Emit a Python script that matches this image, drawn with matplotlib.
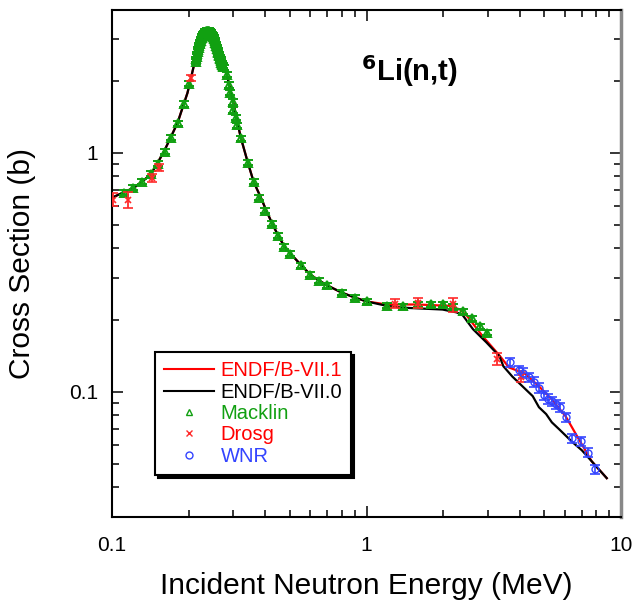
import matplotlib
matplotlib.use("Agg")
import matplotlib.pyplot as plt
from matplotlib.lines import Line2D
from matplotlib.ticker import LogLocator, NullFormatter, FixedLocator, FixedFormatter
import numpy as np

plt.rcParams['font.family'] = ['Liberation Sans', 'DejaVu Sans']

# ENDF/B-VII.1 (red) evaluation
e71 = [0.100, 0.102, 0.122, 0.142, 0.160, 0.181, 0.198, 0.213, 0.224, 0.232, 0.238, 0.242,
       0.248, 0.256, 0.266, 0.275, 0.298, 0.320, 0.341, 0.360, 0.383, 0.404, 0.426, 0.450,
       0.476, 0.502, 0.555, 0.602, 0.652, 0.700, 0.800, 0.900, 1.00, 1.20, 1.58, 2.12,
       2.33, 2.49, 2.86, 3.33, 3.63, 3.98, 4.22, 4.76, 5.35, 6.06, 6.66, 7.67, 8.79]
s71 = [0.650, 0.655, 0.714, 0.809, 1.01, 1.334, 1.78, 2.48, 2.92, 3.12, 3.20, 3.21,
       3.15, 2.95, 2.62, 2.40, 1.66, 1.166, 0.917, 0.757, 0.655, 0.573, 0.505, 0.450,
       0.405, 0.379, 0.338, 0.309, 0.292, 0.279, 0.260, 0.248, 0.239, 0.232, 0.232, 0.229,
       0.221, 0.207, 0.171, 0.142, 0.1265, 0.122, 0.1187, 0.1055, 0.093, 0.0791, 0.0664, 0.0513, 0.0436]

# ENDF/B-VII.0 (black) evaluation
e70 = [0.100, 0.102, 0.122, 0.142, 0.160, 0.181, 0.198, 0.213, 0.224, 0.232, 0.238, 0.242,
       0.248, 0.256, 0.266, 0.275, 0.298, 0.320, 0.341, 0.360, 0.383, 0.404, 0.426, 0.450,
       0.476, 0.502, 0.555, 0.602, 0.652, 0.700, 0.800, 0.900, 1.00, 1.20, 1.39, 1.66, 1.99,
       2.26, 2.39, 2.62, 2.96, 3.33, 3.45, 3.74, 4.22, 4.50, 4.76, 5.08, 5.35, 5.70,
       6.43, 7.02, 7.67, 8.79]
s70 = [0.650, 0.655, 0.714, 0.809, 1.01, 1.334, 1.78, 2.48, 2.92, 3.12, 3.20, 3.21,
       3.15, 2.95, 2.62, 2.40, 1.66, 1.166, 0.917, 0.757, 0.655, 0.573, 0.505, 0.450,
       0.405, 0.379, 0.338, 0.309, 0.292, 0.279, 0.260, 0.248, 0.239, 0.229, 0.225, 0.223, 0.221,
       0.215, 0.209, 0.183, 0.161, 0.141, 0.128, 0.116, 0.1025, 0.096, 0.0863, 0.0808, 0.0746, 0.0700,
       0.0618, 0.0570, 0.0513, 0.0436]

# Macklin data (green)
mack_e = [0.111, 0.121, 0.131, 0.142, 0.151, 0.161, 0.171, 0.181, 0.191, 0.200, 0.213,
          0.214, 0.215, 0.216, 0.217, 0.218, 0.219, 0.220, 0.221, 0.222, 0.223, 0.224, 0.225,
          0.226, 0.227, 0.228, 0.229, 0.230, 0.231, 0.232, 0.233, 0.234, 0.235, 0.236, 0.237,
          0.238, 0.239, 0.240, 0.241, 0.242, 0.243, 0.244, 0.245, 0.246, 0.247, 0.248, 0.249,
          0.250, 0.251, 0.252, 0.253, 0.254, 0.255, 0.256, 0.257, 0.258, 0.259, 0.260, 0.261,
          0.262, 0.263, 0.264, 0.265, 0.266, 0.267, 0.268, 0.269, 0.270, 0.271, 0.272, 0.273,
          0.2745, 0.284, 0.287, 0.290, 0.2977, 0.300, 0.306, 0.311, 0.322, 0.343, 0.360, 0.379,
          0.400, 0.426, 0.450, 0.476, 0.502, 0.555, 0.602, 0.652, 0.700, 0.800, 0.900, 1.00,
          1.20, 1.39, 1.59, 1.79, 1.99, 2.18, 2.39, 2.59, 2.80, 2.98]
mack_s = [0.680, 0.714, 0.757, 0.817, 0.900, 1.01, 1.155, 1.33, 1.60, 1.94, 2.40,
          2.46, 2.52, 2.58, 2.64, 2.70, 2.75, 2.80, 2.85, 2.90, 2.94, 2.98, 3.02,
          3.05, 3.08, 3.11, 3.13, 3.15, 3.17, 3.19, 3.20, 3.21, 3.22, 3.23, 3.23,
          3.23, 3.23, 3.23, 3.22, 3.21, 3.20, 3.19, 3.17, 3.15, 3.13, 3.11, 3.08,
          3.05, 3.02, 2.99, 2.95, 2.92, 2.88, 2.84, 2.80, 2.76, 2.72, 2.68, 2.64,
          2.60, 2.57, 2.54, 2.50, 2.47, 2.44, 2.41, 2.38, 2.36, 2.33, 2.31, 2.29,
          2.28, 2.12, 1.92, 1.78, 1.63, 1.51, 1.40, 1.30, 1.15, 0.908, 0.757, 0.649,
          0.573, 0.505, 0.450, 0.405, 0.379, 0.338, 0.309, 0.292, 0.279, 0.260, 0.248, 0.239,
          0.229, 0.228, 0.232, 0.232, 0.232, 0.228, 0.217, 0.203, 0.188, 0.177]

# Drosg data (red)
drosg_e = [0.1009, 0.1155, 0.143, 0.153, 0.205, 1.30, 1.60, 2.18, 3.27, 4.04]
drosg_s = [0.636, 0.636, 0.786, 0.866, 2.06, 0.234, 0.236, 0.232, 0.137, 0.116]
drosg_err = [0.04, 0.05, 0.03, 0.03, 0.06, 0.01, 0.012, 0.016, 0.008, 0.006]

# WNR data (blue)
wnr_e = [3.67, 3.98, 4.13, 4.36, 4.57, 4.78, 4.97, 5.15, 5.35, 5.54, 5.78, 6.06, 6.42, 6.99, 7.41, 7.92]
wnr_s = [0.133, 0.123, 0.120, 0.115, 0.110, 0.104, 0.097, 0.0935, 0.0913, 0.0887, 0.0862,
         0.0784, 0.064, 0.0621, 0.0558, 0.0475]

GREEN = '#11a011'
RED = '#ff2a2a'
BLUE = '#3344ff'

fig = plt.figure(figsize=(6.34, 6.00), dpi=100)
ax = fig.add_axes([112/634, 1-517/600, 509/634, 507/600])
ax.set_xscale('log')
ax.set_yscale('log')

ax.plot(e71, s71, color='red', lw=1.6, zorder=2)
ax.plot(e70, s70, color='black', lw=1.6, zorder=3)

mack_err = [0.025*s for s in mack_s]
ax.errorbar(mack_e, mack_s, yerr=mack_err, fmt='^', ms=5.5, mfc='none', mec=GREEN, mew=1.4,
            ecolor=GREEN, capsize=3.5, elinewidth=1.5, capthick=1.8, color=GREEN, zorder=4)
ax.errorbar(drosg_e, drosg_s, yerr=drosg_err, fmt='x', ms=4, color=RED, mew=1.2,
            ecolor=RED, capsize=3.5, elinewidth=1.3, capthick=1.3, zorder=5)
wnr_err = [0.045*s for s in wnr_s]
ax.errorbar(wnr_e, wnr_s, yerr=wnr_err, fmt='o', ms=5, mfc='none', mec=BLUE,
            ecolor=BLUE, capsize=3.5, elinewidth=1.2, capthick=1.2, zorder=5)

ax.set_xlim(0.1, 10)
ax.set_ylim(0.030, 3.95)

ax.xaxis.set_major_locator(FixedLocator([0.1, 1, 10]))
ax.xaxis.set_major_formatter(FixedFormatter(['0.1', '1', '10']))
ax.xaxis.set_minor_locator(LogLocator(base=10, subs=np.arange(2, 10)))
ax.xaxis.set_minor_formatter(NullFormatter())
ax.yaxis.set_major_locator(FixedLocator([0.1, 1]))
ax.yaxis.set_major_formatter(FixedFormatter(['0.1', '1']))
ax.yaxis.set_minor_locator(LogLocator(base=10, subs=np.arange(2, 10)))
ax.yaxis.set_minor_formatter(NullFormatter())

ax.tick_params(which='both', direction='in', top=True, right=True, labelsize=15, width=1.1)
ax.tick_params(which='major', length=8)
ax.tick_params(which='minor', length=5)
ax.tick_params(axis='x', pad=14)
ax.tick_params(axis='y', pad=10)

for sp in ['left', 'bottom', 'top']:
    ax.spines[sp].set_linewidth(1.5)
ax.spines['right'].set_linewidth(2.5)
ax.spines['right'].set_color('#888888')

ax.set_xlabel('Incident Neutron Energy (MeV)', fontsize=21.5, labelpad=12)
ax.set_ylabel('Cross Section (b)', fontsize=21.5, labelpad=24)

ax.text(0.585, 0.88, r'$^{\mathbf{6}}$Li(n,t)', transform=ax.transAxes, fontsize=21,
        fontweight='bold', ha='center', va='center')

handles = [
    Line2D([], [], color='red', lw=1.5),
    Line2D([], [], color='black', lw=1.5),
    Line2D([], [], ls='none', marker='^', ms=5, mfc='none', mec=GREEN),
    Line2D([], [], ls='none', marker='x', ms=5, color=RED),
    Line2D([], [], ls='none', marker='o', ms=5, mfc='none', mec=BLUE),
]
labels = ['ENDF/B-VII.1', 'ENDF/B-VII.0', 'Macklin', 'Drosg', 'WNR']
leg = ax.legend(handles, labels, loc='lower left', bbox_to_anchor=(0.0845, 0.083),
                borderaxespad=0, fontsize=14.5, frameon=True, fancybox=False,
                shadow={'color': 'black', 'alpha': 1.0}, handlelength=2.5,
                handletextpad=0.3, labelspacing=0.12, borderpad=0.45)
leg.get_frame().set_edgecolor('black')
leg.get_frame().set_linewidth(1.5)
for t, c in zip(leg.get_texts(), ['red', 'black', GREEN, 'red', BLUE]):
    t.set_color(c)

fig.savefig('out.png', dpi=100)
